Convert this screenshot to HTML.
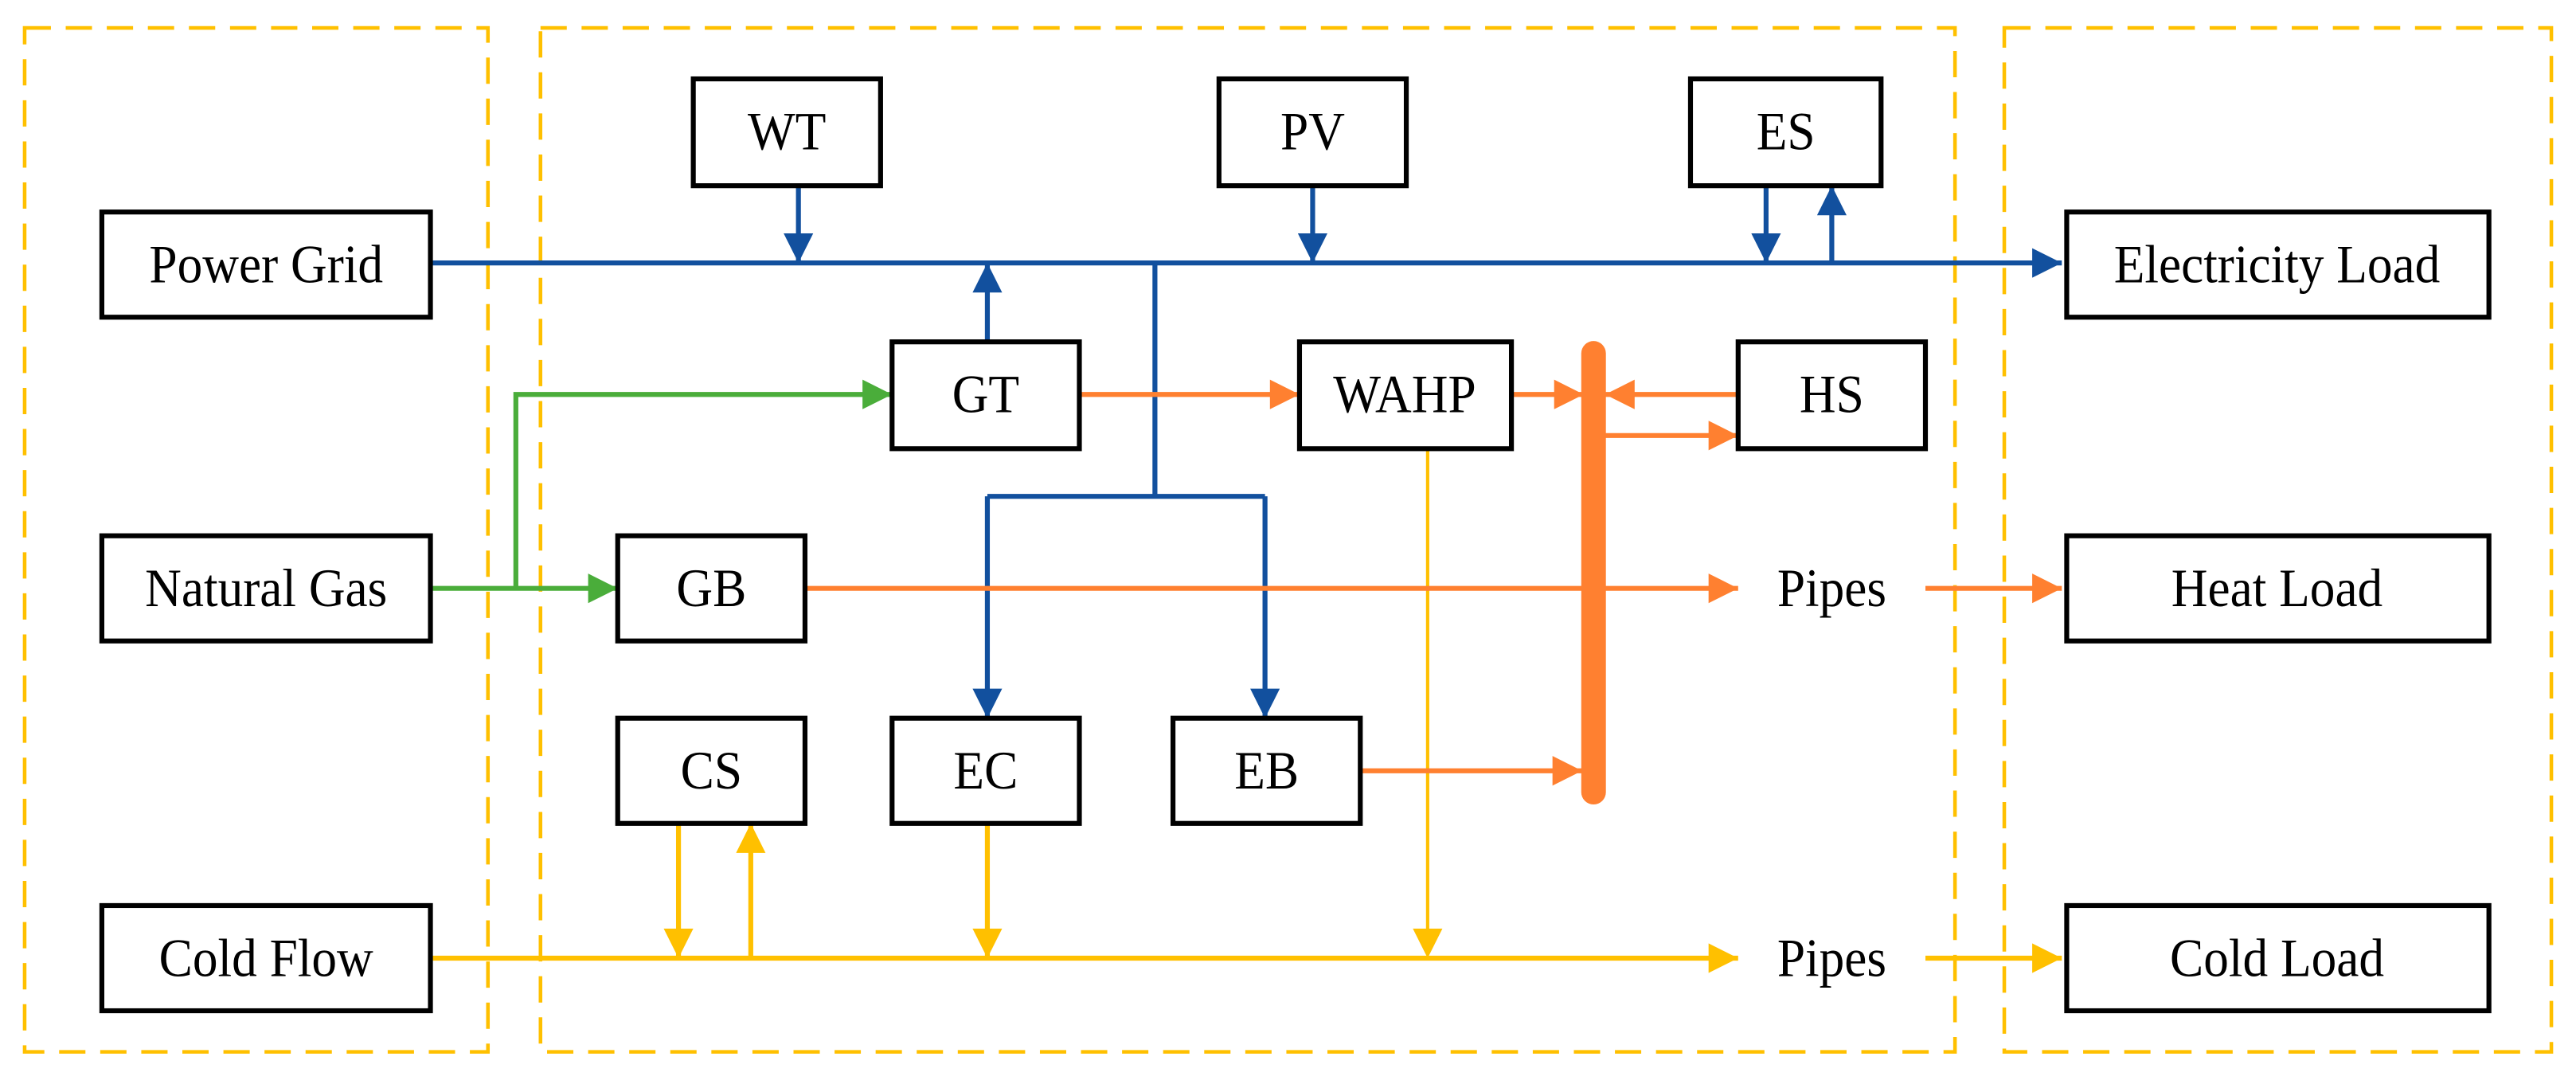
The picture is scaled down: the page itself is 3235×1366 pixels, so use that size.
<!DOCTYPE html>
<html><head><meta charset="utf-8"><style>
html,body{margin:0;padding:0;background:#fff;}
svg{display:block;}
text{font-family:"Liberation Serif",serif;font-size:33px;fill:#000;text-anchor:middle;dominant-baseline:central;}
</style></head><body>
<svg width="3235" height="1366" viewBox="0 0 1568 662" preserveAspectRatio="none" xmlns="http://www.w3.org/2000/svg">
<defs>
<marker id="ab" viewBox="0 0 10 10" refX="10" refY="5" markerWidth="6.5" markerHeight="6" orient="auto" markerUnits="strokeWidth"><path d="M0,0L10,5L0,10z" fill="#12509e"/></marker>
<marker id="ao" viewBox="0 0 10 10" refX="10" refY="5" markerWidth="6.5" markerHeight="6" orient="auto" markerUnits="strokeWidth"><path d="M0,0L10,5L0,10z" fill="#ff8030"/></marker>
<marker id="ag" viewBox="0 0 10 10" refX="10" refY="5" markerWidth="6.5" markerHeight="6" orient="auto" markerUnits="strokeWidth"><path d="M0,0L10,5L0,10z" fill="#4aad3a"/></marker>
<marker id="ay" viewBox="0 0 10 10" refX="10" refY="5" markerWidth="6.5" markerHeight="6" orient="auto" markerUnits="strokeWidth"><path d="M0,0L10,5L0,10z" fill="#ffc000"/></marker>
</defs>
<g fill="none" stroke="#ffc000" stroke-width="2.2" stroke-dasharray="16,9">
<rect x="15" y="17" width="282" height="623"/>
<rect x="329" y="17" width="861" height="623"/>
<rect x="1220" y="17" width="333" height="623"/>
</g>
<g fill="none" stroke="#12509e" stroke-width="3">
<path d="M262,160H1255" marker-end="url(#ab)"/>
<path d="M486,113V160" marker-end="url(#ab)"/>
<path d="M799,113V160" marker-end="url(#ab)"/>
<path d="M1075,113V160" marker-end="url(#ab)"/>
<path d="M1115,160V113" marker-end="url(#ab)"/>
<path d="M601,208V160" marker-end="url(#ab)"/>
<path d="M703,160V302"/>
<path d="M601,302H770"/>
<path d="M601,302V437" marker-end="url(#ab)"/>
<path d="M770,302V437" marker-end="url(#ab)"/>
</g>
<g fill="none" stroke="#4aad3a" stroke-width="3">
<path d="M262,358H376" marker-end="url(#ag)"/>
<path d="M314,358V240H543" marker-end="url(#ag)"/>
</g>
<g fill="none" stroke="#ffc000" stroke-width="3">
<path d="M262,583H1058" marker-end="url(#ay)"/>
<path d="M413,501V583" marker-end="url(#ay)"/>
<path d="M457,583V501" marker-end="url(#ay)"/>
<path d="M601,501V583" marker-end="url(#ay)"/>
<path d="M869,273V575" stroke-width="2"/>
<path d="M860,565L869,583L878,565z" fill="#ffc000" stroke="none"/>
<path d="M1172,583H1255" marker-end="url(#ay)"/>
</g>
<g fill="none" stroke="#ff8030" stroke-width="3">
<path d="M657,240H791" marker-end="url(#ao)"/>
<path d="M490,358H1058" marker-end="url(#ao)"/>
<path d="M1172,358H1255" marker-end="url(#ao)"/>
<path d="M920,240H964" marker-end="url(#ao)"/>
<path d="M1058,240H977" marker-end="url(#ao)"/>
<path d="M977,265H1058" marker-end="url(#ao)"/>
<path d="M828,469H963" marker-end="url(#ao)"/>
<path d="M970,215V482" stroke-width="15" stroke-linecap="round"/>
</g>
<g fill="#fff" stroke="#000" stroke-width="3">
<rect x="62" y="129" width="200" height="64"/>
<rect x="62" y="326" width="200" height="64"/>
<rect x="62" y="551" width="200" height="64"/>
<rect x="422" y="48" width="114" height="65"/>
<rect x="742" y="48" width="114" height="65"/>
<rect x="1029" y="48" width="116" height="65"/>
<rect x="543" y="208" width="114" height="65"/>
<rect x="791" y="208" width="129" height="65"/>
<rect x="1058" y="208" width="114" height="65"/>
<rect x="376" y="326" width="114" height="64"/>
<rect x="376" y="437" width="114" height="64"/>
<rect x="543" y="437" width="114" height="64"/>
<rect x="714" y="437" width="114" height="64"/>
<rect x="1258" y="129" width="257" height="64"/>
<rect x="1258" y="326" width="257" height="64"/>
<rect x="1258" y="551" width="257" height="64"/>
</g>
<text transform="translate(162,161) scale(0.93,1)">Power Grid</text>
<text transform="translate(162,358) scale(0.93,1)">Natural Gas</text>
<text transform="translate(162,583) scale(0.93,1)">Cold Flow</text>
<text transform="translate(479,80) scale(0.93,1)">WT</text>
<text transform="translate(799,80) scale(0.93,1)">PV</text>
<text transform="translate(1087,80) scale(0.93,1)">ES</text>
<text transform="translate(600,240) scale(0.93,1)">GT</text>
<text transform="translate(855,240) scale(0.93,1)">WAHP</text>
<text transform="translate(1115,240) scale(0.93,1)">HS</text>
<text transform="translate(433,358) scale(0.93,1)">GB</text>
<text transform="translate(433,469) scale(0.93,1)">CS</text>
<text transform="translate(600,469) scale(0.93,1)">EC</text>
<text transform="translate(771,469) scale(0.93,1)">EB</text>
<text transform="translate(1386,161) scale(0.93,1)">Electricity Load</text>
<text transform="translate(1386,358) scale(0.93,1)">Heat Load</text>
<text transform="translate(1386,583) scale(0.93,1)">Cold Load</text>
<text transform="translate(1115,358) scale(0.93,1)">Pipes</text>
<text transform="translate(1115,583) scale(0.93,1)">Pipes</text>
</svg>
</body></html>
